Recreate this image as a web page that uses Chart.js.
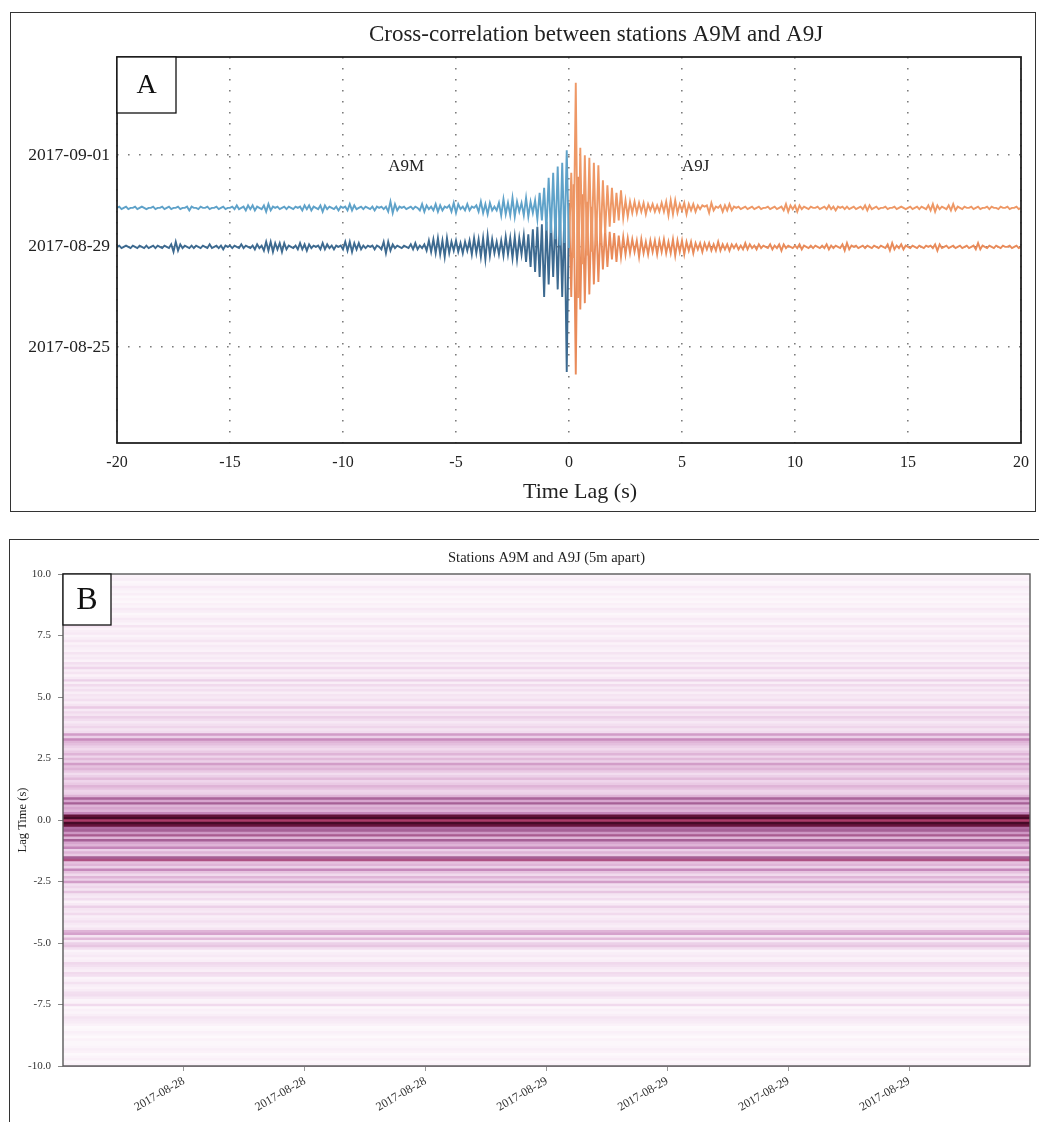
<!DOCTYPE html>
<html>
<head>
<meta charset="utf-8">
<title>Cross-correlation A9M / A9J</title>
<script src="https://cdn.jsdelivr.net/npm/chart.js@4.4.1/dist/chart.umd.min.js"></script>
<style>
  body { margin: 0; background: #fff; }
  .frame { position: absolute; border: 1.5px solid #333; box-sizing: border-box; }
  canvas { position: absolute; left: 0; }
</style>
</head>
<body>
<div class="frame" style="left:10px;top:12px;width:1026px;height:500px;"></div>
<div class="frame" style="left:9px;top:539px;width:1040px;height:600px;"></div>
<canvas id="xcorr" width="1039" height="512" style="top:0"></canvas>
<canvas id="stack" width="1039" height="582" style="top:540px"></canvas>
<script>
// ---- panel A: stacked cross-correlations, sampled every 0.1 s from -20 s to +20 s
const lagStart = -20;
const lagStep = 0.1;

// stack plotted on the upper row (one row = 1 s of lag per line below)
const corrUpper = [
  0, 0.01, -0.01, 0, 0.01, -0.01, 0, 0, 0.01, -0.01,
  0, 0.01, 0, -0.01, 0, 0, 0.01, -0.01, 0, 0,
  0.01, -0.01, 0, 0.01, -0.01, 0, 0, 0.01, -0.01, 0,
  0, 0.01, -0.02, 0.01, 0, 0, -0.01, 0.01, 0, 0,
  0.01, -0.01, 0, 0, 0.01, -0.01, 0, 0.01, -0.01, 0,
  0, 0.01, -0.01, 0.02, -0.01, 0, 0.01, -0.02, 0.02, -0.01,
  0.02, -0.02, 0.01, 0, -0.01, 0.02, -0.03, 0.03, -0.02, 0.01,
  0, 0.01, -0.01, 0, 0.01, -0.01, 0.01, 0, -0.01, 0.01,
  0, 0.01, -0.02, 0.02, -0.01, 0.02, -0.02, 0.01, 0, -0.01,
  0.02, -0.03, 0.02, -0.01, 0.01, 0, -0.01, 0.01, -0.02, 0.01,
  0, 0.01, -0.02, 0.03, -0.02, 0.02, -0.01, 0, 0.01, -0.01,
  0.01, 0, -0.01, 0.01, -0.02, 0.01, 0, 0.01, -0.01, 0.01,
  -0.03, 0.05, -0.04, 0.03, -0.02, 0.01, 0, 0.01, -0.01, 0,
  0.01, -0.01, 0.01, 0, -0.02, 0.03, -0.03, 0.02, -0.01, 0.01,
  -0.02, 0.03, -0.03, 0.02, -0.02, 0.01, 0, 0.02, -0.03, 0.04,
  -0.04, 0.03, -0.01, 0.01, -0.02, 0.03, -0.02, 0.01, 0, 0.02,
  -0.03, 0.05, -0.04, 0.03, -0.05, 0.04, -0.02, 0.01, -0.02, 0.04,
  -0.06, 0.07, -0.05, 0.04, -0.06, 0.08, -0.07, 0.05, -0.03, 0.04,
  -0.06, 0.08, -0.07, 0.05, -0.04, 0.06, -0.09, 0.12, -0.1, 0.16,
  -0.18, 0.24, -0.2, 0.28, -0.25, 0.33, -0.3, 0.36, -0.28, 0.46,
  -0.32, 0.28, -0.4, 1.0, -0.72, 0.48, -0.45, 0.42, -0.38, 0.4,
  -0.35, 0.36, -0.3, 0.34, -0.28, 0.22, -0.2, 0.18, -0.15, 0.16,
  -0.12, 0.12, -0.1, 0.14, -0.08, 0.06, -0.07, 0.05, -0.04, 0.05,
  -0.04, 0.04, -0.03, 0.04, -0.05, 0.03, -0.02, 0.03, -0.03, 0.02,
  -0.03, 0.04, -0.03, 0.05, -0.06, 0.06, -0.05, 0.06, -0.04, 0.03,
  -0.02, 0.04, -0.05, 0.03, -0.02, 0.03, -0.03, 0.02, -0.01, 0.02,
  0.01, 0.02, -0.04, 0.04, -0.02, 0.01, 0, 0.02, -0.03, 0.02,
  -0.02, 0.03, -0.02, 0.01, 0, 0.01, -0.01, 0, 0.01, -0.01,
  0, 0.01, -0.01, 0, 0.01, -0.01, 0, 0, 0.01, -0.01,
  0, 0.01, -0.01, 0, 0.01, -0.02, 0.03, -0.03, 0.02, -0.01,
  0.02, -0.03, 0.02, -0.01, 0.01, 0, -0.01, 0.01, 0, 0,
  0.01, -0.01, 0, 0.01, -0.01, 0.02, -0.01, 0.01, -0.02, 0.01,
  0, 0.01, -0.01, 0.01, -0.01, 0, 0.01, -0.01, 0, 0.01,
  -0.01, 0.02, -0.02, 0.02, -0.01, 0, 0.01, -0.01, 0, 0,
  0.01, -0.01, 0, 0, 0.01, -0.01, 0, 0.01, 0, -0.01,
  0, 0.01, -0.01, 0, 0.01, -0.01, 0.01, 0, -0.01, 0.02,
  -0.02, 0.03, -0.03, 0.02, -0.01, 0.01, 0, -0.01, 0.02, -0.02,
  0.03, -0.02, 0.01, 0, -0.01, 0.01, 0, 0, 0.01, -0.01,
  0, 0.01, -0.01, 0, 0, 0.01, -0.01, 0.01, 0, 0,
  -0.01, 0.01, 0, 0, 0.01, -0.01, 0, 0, 0.01, -0.01,
  0
];

// stack plotted on the 2017-08-29 row
const corrLower = [
  0, 0.01, -0.01, 0, 0.01, 0, -0.01, 0.01, 0, -0.01,
  0.01, 0, -0.01, 0.01, -0.01, 0, 0.01, -0.01, 0.01, 0,
  -0.01, 0.01, 0, -0.01, 0.02, -0.04, 0.04, -0.03, 0.02, -0.01,
  0.01, 0, -0.01, 0.01, -0.01, 0.01, 0, -0.01, 0.01, 0,
  -0.01, 0.02, -0.01, 0, 0.01, -0.01, 0.01, -0.02, 0.01, 0,
  0.01, -0.01, 0.01, 0, -0.01, 0.02, -0.01, 0.01, 0, -0.01,
  0.01, -0.02, 0.02, -0.01, 0.01, -0.03, 0.04, -0.03, 0.04, -0.04,
  0.03, -0.02, 0.03, -0.04, 0.03, -0.02, 0.01, 0, -0.01, 0.01,
  -0.02, 0.03, -0.02, 0.02, -0.03, 0.02, -0.01, 0.01, 0, 0.01,
  -0.02, 0.03, -0.02, 0.02, -0.01, 0.01, -0.02, 0.01, 0, 0.01,
  -0.02, 0.04, -0.03, 0.04, -0.04, 0.03, -0.02, 0.03, -0.02, 0.01,
  -0.01, 0.01, 0, 0.01, -0.02, 0.01, 0, -0.02, 0.04, -0.05,
  0.04, -0.03, 0.02, -0.01, 0.01, 0, -0.01, 0.01, 0, -0.01,
  0.02, -0.02, 0.03, -0.02, 0.01, -0.01, 0.02, -0.03, 0.05, -0.04,
  0.06, -0.05, 0.07, -0.06, 0.05, -0.08, 0.07, -0.05, 0.04, -0.03,
  0.05, -0.04, 0.03, -0.05, 0.04, -0.03, 0.05, -0.06, 0.07, -0.05,
  0.06, -0.08, 0.07, -0.1, 0.09, -0.07, 0.06, -0.05, 0.04, -0.06,
  0.05, -0.07, 0.08, -0.06, 0.07, -0.09, 0.08, -0.1, 0.07, -0.06,
  0.09, -0.12, 0.1, -0.16, 0.14, -0.2, 0.16, -0.24, 0.18, -0.4,
  0.2, -0.3, 0.22, -0.24, 0.26, -0.34, 0.28, -0.4, 0.3, -1.0,
  0.35, -0.4, 0.5, -1.02, 0.56, -0.5, 0.42, -0.45, 0.36, -0.38,
  0.32, -0.3, 0.26, -0.28, 0.2, -0.18, 0.14, -0.16, 0.12, -0.1,
  0.11, -0.12, 0.09, -0.08, 0.08, -0.06, 0.07, -0.05, 0.06, -0.04,
  0.05, -0.08, 0.06, -0.05, 0.04, -0.06, 0.05, -0.04, 0.05, -0.06,
  0.05, -0.04, 0.06, -0.05, 0.04, -0.05, 0.06, -0.07, 0.05, -0.04,
  0.05, -0.06, 0.04, -0.03, 0.04, -0.05, 0.03, -0.02, 0.03, -0.04,
  0.03, -0.02, 0.03, -0.03, 0.02, -0.03, 0.04, -0.03, 0.02, -0.02,
  0.02, -0.03, 0.02, -0.01, 0.02, -0.02, 0.01, -0.02, 0.03, -0.02,
  0.02, -0.01, 0.01, -0.02, 0.02, -0.01, 0.01, 0, -0.01, 0.02,
  -0.02, 0.01, -0.01, 0.02, -0.03, 0.02, -0.01, 0.01, 0, -0.01,
  0.01, -0.01, 0.02, -0.02, 0.01, 0, -0.01, 0.01, -0.01, 0.01,
  0, -0.01, 0.01, -0.01, 0.02, -0.02, 0.01, -0.01, 0.01, 0,
  -0.01, 0.02, -0.03, 0.03, -0.02, 0.01, 0, 0.01, -0.01, 0,
  0.01, -0.01, 0.01, 0, -0.01, 0.01, 0, -0.01, 0.01, 0,
  -0.01, 0.02, -0.03, 0.03, -0.02, 0.01, -0.01, 0.02, -0.02, 0.01,
  0, -0.01, 0.01, 0, -0.01, 0.01, 0, -0.01, 0.01, 0,
  0.01, -0.01, 0.02, -0.03, 0.02, -0.01, 0, 0.01, -0.01, 0,
  0.01, -0.01, 0, 0.01, -0.01, 0, 0.01, -0.01, 0, 0.01,
  -0.02, 0.03, -0.02, 0.01, 0, -0.01, 0.01, 0, -0.01, 0.01,
  0, -0.01, 0.01, 0, 0, 0.01, -0.01, 0, 0.01, -0.01,
  0
];

const dateTickLabels = ['2017-09-01', '2017-08-29', '2017-08-25'];
const dateTickDays = [7, 3.65, 0];          // days after 2017-08-25 on the stack axis
const stationNotes = [{ text: 'A9M', lag: -7.2 }, { text: 'A9J', lag: 5.6 }];

// ---- panel B: coherence per lag row (-10.0 s ... +10.0 s, 0.1 s rows)
const rowLagStart = -10;
const rowLagStep = 0.1;
const rowCoherence = [
  0.08, 0.06, 0.04, 0.07, 0.05, 0.03, 0.06, 0.08, 0.05, 0.04,
  0.04, 0.06, 0.03, 0.05, 0.07, 0.04, 0.03, 0.06, 0.09, 0.1,
  0.12, 0.08, 0.05, 0.07, 0.04, 0.16, 0.06, 0.05, 0.1, 0.15,
  0.14, 0.09, 0.06, 0.08, 0.13, 0.07, 0.05, 0.14, 0.16, 0.08,
  0.1, 0.14, 0.17, 0.08, 0.06, 0.1, 0.08, 0.05, 0.14, 0.24,
  0.2, 0.1, 0.28, 0.12, 0.36, 0.3, 0.12, 0.08, 0.1, 0.14,
  0.1, 0.08, 0.16, 0.1, 0.12, 0.2, 0.1, 0.06, 0.15, 0.1,
  0.12, 0.24, 0.12, 0.18, 0.14, 0.38, 0.2, 0.3, 0.16, 0.25,
  0.45, 0.2, 0.3, 0.25, 0.66, 0.6, 0.22, 0.3, 0.2, 0.46,
  0.3, 0.35, 0.6, 0.3, 0.62, 0.4, 0.6, 0.55, 0.88, 0.97,
  0.74, 0.97, 0.9, 0.45, 0.3, 0.35, 0.3, 0.6, 0.35, 0.58,
  0.3, 0.2, 0.18, 0.25, 0.3, 0.22, 0.18, 0.28, 0.2, 0.15,
  0.22, 0.3, 0.25, 0.38, 0.2, 0.28, 0.18, 0.3, 0.22, 0.16,
  0.2, 0.26, 0.3, 0.44, 0.2, 0.38, 0.15, 0.12, 0.18, 0.14,
  0.1, 0.15, 0.2, 0.12, 0.16, 0.1, 0.22, 0.12, 0.08, 0.14,
  0.1, 0.12, 0.08, 0.14, 0.1, 0.16, 0.08, 0.2, 0.1, 0.06,
  0.12, 0.08, 0.18, 0.1, 0.14, 0.06, 0.1, 0.08, 0.12, 0.06,
  0.08, 0.1, 0.06, 0.12, 0.08, 0.05, 0.1, 0.08, 0.06, 0.12,
  0.05, 0.08, 0.1, 0.06, 0.04, 0.08, 0.1, 0.05, 0.07, 0.04,
  0.06, 0.04, 0.08, 0.05, 0.07, 0.1, 0.05, 0.04, 0.08, 0.06,
  0.05
];

const hourTicks = [0, 48];                   // 2017-08-28 00:00 to 2017-08-30 00:00
const stackDateLabels = ['2017-08-28', '2017-08-28', '2017-08-28',
  '2017-08-29', '2017-08-29', '2017-08-29', '2017-08-29'];

const SERIF = '"Liberation Serif", "DejaVu Serif", serif';

// white -> pink -> crimson -> dark maroon
const ramp = [
  [0.00, [255, 255, 255]],
  [0.08, [249, 238, 247]],
  [0.18, [239, 213, 235]],
  [0.30, [223, 180, 215]],
  [0.45, [198, 136, 187]],
  [0.60, [166, 96, 150]],
  [0.72, [182, 66, 112]],
  [0.86, [112, 22, 64]],
  [1.00, [58, 8, 34]]
];
function rampColor(v) {
  for (let i = 1; i < ramp.length; i++) {
    if (v <= ramp[i][0]) {
      const [v0, c0] = ramp[i - 1];
      const [v1, c1] = ramp[i];
      const f = (v - v0) / (v1 - v0);
      return 'rgb(' + c0.map((c, k) => Math.round(c + (c1[k] - c) * f)).join(',') + ')';
    }
  }
  return 'rgb(' + ramp[ramp.length - 1][1].join(',') + ')';
}

// frame around the plot area, the lettered box and free text
const panelDecor = {
  id: 'panelDecor',
  afterDraw(chart, args, opts) {
    const { ctx, chartArea: a, scales } = chart;
    ctx.save();
    ctx.strokeStyle = opts.frameColor;
    ctx.lineWidth = opts.frameWidth;
    ctx.strokeRect(a.left, a.top, a.right - a.left, a.bottom - a.top);

    const [bw, bh] = opts.boxSize;
    ctx.fillStyle = '#fff';
    ctx.fillRect(a.left, a.top, bw, bh);
    ctx.strokeStyle = '#111';
    ctx.lineWidth = 1.3;
    ctx.strokeRect(a.left, a.top, bw, bh);
    ctx.fillStyle = '#111';
    ctx.textAlign = 'center';
    ctx.textBaseline = 'middle';
    ctx.font = opts.letterFont;
    ctx.fillText(opts.letter, a.left + bw / 2, a.top + bh / 2 + 1);

    ctx.font = opts.titleFont;
    ctx.fillStyle = '#222';
    ctx.fillText(opts.title, opts.titleX || (a.left + a.right) / 2, opts.titleY);

    if (opts.axisTitle) {
      ctx.font = opts.axisTitleFont;
      ctx.fillText(opts.axisTitle, opts.axisTitleX, opts.axisTitleY);
    }

    (opts.notes || []).forEach(n => {
      ctx.font = opts.noteFont;
      ctx.fillText(n.text, scales.x.getPixelForValue(n.lag), scales.y.getPixelForValue(opts.noteRow));
    });
    ctx.restore();
  }
};

const UPPER_ROW = 5.07;   // stack rows on the date axis
const LOWER_ROW = 3.65;
const GAIN = 4.56;        // correlation amplitude -> date-axis units

function traceSet(values, row, from, to, color) {
  const pts = [];
  for (let i = from; i <= to; i++) {
    pts.push({ x: Math.round((lagStart + i * lagStep) * 10) / 10, y: row + values[i] * GAIN });
  }
  return { data: pts, borderColor: color, borderWidth: 1.9, pointRadius: 0, fill: false, tension: 0 };
}

const mid = (corrUpper.length - 1) / 2;

new Chart(document.getElementById('xcorr'), {
  type: 'line',
  data: {
    datasets: [
      traceSet(corrUpper, UPPER_ROW, 0, mid, '#5fa2c9'),
      traceSet(corrUpper, UPPER_ROW, mid, corrUpper.length - 1, '#ee9866'),
      traceSet(corrLower, LOWER_ROW, 0, mid, '#3d6a90'),
      traceSet(corrLower, LOWER_ROW, mid, corrLower.length - 1, '#e98b5a')
    ]
  },
  options: {
    responsive: false,
    animation: false,
    layout: { padding: { top: 57, right: 17, bottom: 5, left: 0 } },
    plugins: {
      legend: { display: false },
      tooltip: { enabled: false },
      panelDecor: {
        frameColor: '#222', frameWidth: 1.8,
        boxSize: [59, 56], letter: 'A', letterFont: '28px ' + SERIF,
        title: 'Cross-correlation between stations A9M and A9J',
        titleFont: '23px ' + SERIF, titleX: 596, titleY: 35,
        axisTitle: 'Time Lag (s)', axisTitleFont: '22px ' + SERIF, axisTitleX: 580, axisTitleY: 492,
        notes: stationNotes, noteRow: 6.56, noteFont: '17px ' + SERIF
      }
    },
    scales: {
      x: {
        type: 'linear', min: -20, max: 20,
        ticks: { stepSize: 5, padding: 10, color: '#222', font: { family: SERIF, size: 16 } },
        grid: { color: '#7c7c7c', lineWidth: 1.6, drawTicks: false },
        border: { display: false, dash: [1.6, 9.4] },
        afterFit: s => { s.height = 64; }
      },
      y: {
        type: 'linear', min: -3.5, max: 10.57,
        afterBuildTicks: s => { s.ticks = dateTickDays.map(v => ({ value: v })); },
        ticks: { callback: (v, i) => dateTickLabels[i], padding: 7, color: '#222',
                 font: { family: SERIF, size: 17.5 } },
        grid: { color: '#7c7c7c', lineWidth: 1.6, drawTicks: false },
        border: { display: false, dash: [1.6, 9.4] },
        afterFit: s => { s.width = 117; }
      }
    }
  },
  plugins: [panelDecor]
});

// one full-width band per lag row
const bands = rowCoherence.map((c, i) => ({
  y: Math.round((rowLagStart + i * rowLagStep) * 10) / 10,
  x: hourTicks
}));

new Chart(document.getElementById('stack'), {
  type: 'bar',
  data: {
    datasets: [{
      data: bands,
      backgroundColor: rowCoherence.map(rampColor),
      borderWidth: 0,
      barThickness: 3
    }]
  },
  options: {
    indexAxis: 'y',
    responsive: false,
    animation: false,
    layout: { padding: { top: 34, right: 9, bottom: 0, left: 0 } },
    plugins: {
      legend: { display: false },
      tooltip: { enabled: false },
      panelDecor: {
        frameColor: '#5a5a5a', frameWidth: 1.4,
        boxSize: [48, 51], letter: 'B', letterFont: '32px ' + SERIF,
        title: 'Stations A9M and A9J (5m apart)',
        titleFont: '14.5px ' + SERIF, titleY: 18
      }
    },
    scales: {
      x: {
        type: 'linear', min: hourTicks[0], max: hourTicks[1], z: 1,
        ticks: {
          stepSize: 6, minRotation: 30, maxRotation: 30, padding: 3, color: '#333',
          font: { family: SERIF, size: 12 },
          callback: (v, i) => (i > 0 && i <= stackDateLabels.length) ? stackDateLabels[i - 1] : null
        },
        grid: { color: '#c6c6c6', lineWidth: 1, tickLength: 5, tickColor: '#999' },
        border: { display: false },
        afterFit: s => { s.height = 56; }
      },
      y: {
        type: 'linear', min: -10, max: 10, offset: false, z: 1,
        ticks: { stepSize: 2.5, padding: 7, color: '#333', font: { family: SERIF, size: 11 },
                 callback: v => v.toFixed(1) },
        grid: { color: '#b9a4b6', lineWidth: 1, offset: false, tickLength: 5, tickColor: '#888' },
        border: { display: false },
        title: { display: true, text: 'Lag Time (s)', color: '#222',
                 font: { family: SERIF, size: 12.5 }, padding: { top: 15, bottom: 0 } },
        afterFit: s => { s.width = 63; }
      }
    }
  },
  plugins: [panelDecor]
});
</script>
</body>
</html>
